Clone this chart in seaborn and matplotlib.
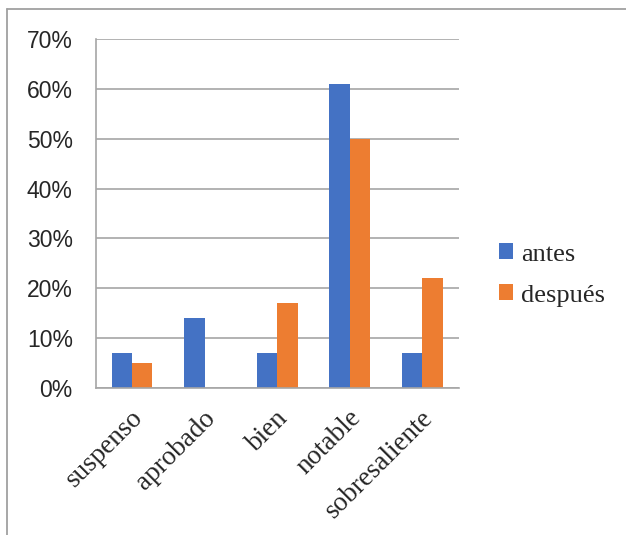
import matplotlib
matplotlib.use('Agg')
import matplotlib.pyplot as plt
import matplotlib.transforms as mtransforms
import seaborn as sns
import pandas as pd
from matplotlib.lines import Line2D
from matplotlib.ticker import PercentFormatter

# datos
categorias = ['suspenso', 'aprobado', 'bien', 'notable', 'sobresaliente']
antes = [7, 14, 7, 61, 7]
despues = [5, 0, 17, 50, 22]
series = ['antes', 'después']
colores = ['#4472C4', '#ED7D31']

df = pd.DataFrame({
    'categoria': categorias * 2,
    'valor': antes + despues,
    'serie': ['antes'] * len(antes) + ['después'] * len(despues),
})

sns.set_style('white')
plt.rcParams['font.family'] = ['Liberation Sans', 'DejaVu Sans']

fig = plt.figure(figsize=(6.26, 5.35), dpi=100)
ax = fig.add_axes([95.7 / 626, 1 - 388 / 535, (458.7 - 95.7) / 626, (388 - 39) / 535])

sns.barplot(data=df, x='categoria', y='valor', hue='serie', hue_order=series,
            palette=colores, width=0.56, saturation=1, edgecolor='none',
            legend=True, ax=ax)

gris = '#a6a6a6'
ax.set_ylim(0, 70)
ax.set_xlim(-0.5, len(categorias) - 0.5)
ax.set_yticks(range(0, 71, 10))
ax.yaxis.set_major_formatter(PercentFormatter(decimals=0))
ax.grid(axis='y', color=gris, lw=1.2)
ax.set_axisbelow(True)
for s in ['top', 'right']:
    ax.spines[s].set_visible(False)
for s in ['left', 'bottom']:
    ax.spines[s].set_color(gris)
    ax.spines[s].set_linewidth(1.2)

ax.tick_params(axis='y', length=6.5, width=1.2, color=gris, pad=10, labelsize=16.5)
ax.tick_params(axis='x', length=0, pad=19)
ax.set_xticks([i - 0.5 for i in range(len(categorias) + 1)], minor=True)
ax.tick_params(axis='x', which='minor', length=5.5, width=1.2, color=gris, direction='out')
ax.set_xticks(range(len(categorias)))
ax.set_xticklabels(categorias, rotation=45, ha='right', rotation_mode='anchor',
                   va='center', family=['Liberation Serif'], fontsize=19.5)
# desplazar un poco las etiquetas a la derecha
desplaza = mtransforms.ScaledTranslation(5 / 72, 0, fig.dpi_scale_trans)
for lbl in ax.get_xticklabels():
    lbl.set_transform(lbl.get_transform() + desplaza)
ax.set_xlabel('')
ax.set_ylabel('')

leg = ax.legend(loc='center left', bbox_to_anchor=(0.797, 0.486), bbox_transform=fig.transFigure,
                frameon=False, fontsize=19,
                handlelength=0.55, handleheight=0.55, handletextpad=0.3,
                labelspacing=0.7, borderpad=0, borderaxespad=0)
for t in leg.get_texts():
    t.set_family(['Liberation Serif'])

# marco del gráfico
fig.add_artist(Line2D([7 / 626, 7 / 626], [0, 1 - 9 / 535], color='#a0a0a0', lw=1.3))
fig.add_artist(Line2D([7 / 626, 1], [1 - 9 / 535, 1 - 9 / 535], color='#a0a0a0', lw=1.3))

fig.savefig('out.png', dpi=100)
